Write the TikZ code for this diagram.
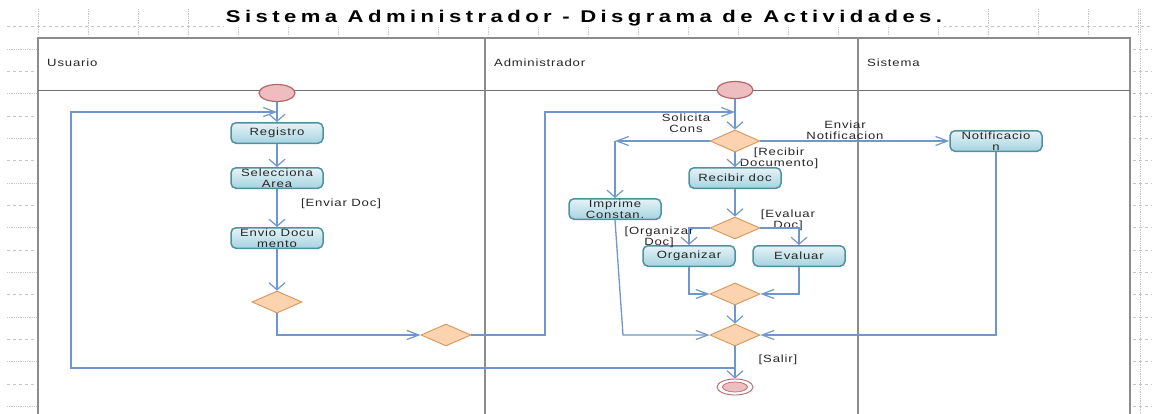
\documentclass[tikz,border=0pt]{standalone}
\usepackage{fontspec}
\setmainfont{Liberation Sans}
\newfontfamily\diafont[FakeStretch=1.25,LetterSpace=8]{Liberation Sans}
\newfontfamily\titlefont[FakeStretch=1.3,LetterSpace=26]{Liberation Sans}
\usetikzlibrary{shapes.geometric,arrows.meta}
\definecolor{flowc}{HTML}{6F97CC}
\definecolor{actt}{HTML}{E6F3F7}
\definecolor{actbot}{HTML}{A6D3E0}
\definecolor{actb}{HTML}{4F929F}
\definecolor{decf}{HTML}{FBD3AE}
\definecolor{decb}{HTML}{D9955A}
\definecolor{stf}{HTML}{EDBDC0}
\definecolor{stb}{HTML}{B5666B}
\definecolor{txt}{HTML}{262626}
\definecolor{framec}{HTML}{8C8C8C}
\definecolor{gridc}{HTML}{C4C4C4}
\begin{document}
\begin{tikzpicture}[x=1pt,y=-1pt,
  dfont/.style={font=\diafont\fontsize{10.5}{10.8}\selectfont, text=txt},
  act/.style={dfont, draw=actb, line width=1.5pt, rounded corners=5pt, top color=actt, bottom color=actbot, minimum width=92pt, minimum height=20.5pt, align=center, inner sep=0.5pt},
  dec/.style={diamond, draw=decb, line width=0.9pt, fill=decf, minimum width=50pt, minimum height=22pt, inner sep=0pt},
  startn/.style={ellipse, draw=stb, line width=1.2pt, fill=stf, minimum width=36pt, minimum height=17pt, inner sep=0pt},
  endn/.style={ellipse, draw=stb, line width=0.9pt, fill=white, minimum width=36pt, minimum height=16pt, inner sep=0pt,
    path picture={\fill[stf, draw=stb, line width=0.7pt] (path picture bounding box.center) ellipse (12.5pt and 5pt);}},
  guard/.style={dfont, align=center, inner sep=0pt},
  lane/.style={dfont, anchor=west, inner sep=0pt},
  flow/.style={draw=flowc, line width=1.3pt},
  varr/.style={-{Straight Barb[length=7pt,width=16pt,line width=1.2pt]}},
  harr/.style={-{Straight Barb[length=12pt,width=9pt,line width=1.2pt]}}
]
\useasboundingbox (0,0) rectangle (1152,413);
% rulers
\foreach \i in {0,...,22} \draw[gridc, densely dotted, line width=0.8pt] ({38+50*\i},9) -- ({38+50*\i},36);
\draw[gridc, dashed, line width=0.8pt] (7,26) -- (1152,26);
\foreach \k in {0,2,...,16} \draw[gridc, densely dotted, line width=0.8pt] (7,{49+22.33*\k}) -- (36,{49+22.33*\k});
\foreach \k in {1,3,...,15} \draw[gridc, dashed, line width=0.8pt] (7,{49+22.33*\k}) -- (36,{49+22.33*\k});
\draw[gridc, densely dotted, line width=0.8pt] (1140,9) -- (1140,413);
\foreach \k in {0,...,16} \draw[gridc, dashed, line width=0.8pt] (1133,{49+22.33*\k}) -- (1152,{49+22.33*\k});
% title
\node[font=\titlefont\bfseries\fontsize{17}{18}\selectfont, fill=white, inner sep=1.5pt] (title) at (584,18) {Sistema Administrador - Disgrama de Actividades.};
% pool and lanes
\draw[framec, line width=2.2pt] (38,420) -- (38,38) -- (1130,38) -- (1130,420);
\draw[framec!80!black, line width=0.9pt] (38,90) -- (1130,90);
\draw[framec, line width=2pt] (485,38) -- (485,420);
\draw[framec, line width=2pt] (858,38) -- (858,420);
\node[lane] (lu) at (47,63) {Usuario};
\node[lane] (la) at (494,63) {Administrador};
\node[lane] (ls) at (867,63) {Sistema};
% nodes
\node[startn] (s1) at (277,93) {};
\node[act] (reg) at (277,133) {Registro};
\node[act] (sel) at (277,178) {Selecciona\\Area};
\node[act] (env) at (277,238) {Envio Docu\\mento};
\node[dec] (d1) at (277,302) {};
\node[dec] (d2) at (446,335) {};
\node[startn] (s2) at (735,90) {};
\node[dec] (d3) at (735,141) {};
\node[act] (not) at (996,141) {Notificacio\\n};
\node[act] (rec) at (735,178) {Recibir doc};
\node[act] (imp) at (615,209) {Imprime\\Constan.};
\node[dec] (d4) at (735,228) {};
\node[act] (org) at (689,256) {Organizar};
\node[act] (eva) at (799,256) {Evaluar};
\node[dec] (d5) at (735,294) {};
\node[dec] (d6) at (735,335) {};
\node[endn] (fin) at (735,387) {};
\coordinate (m1) at (277,112);
\coordinate (m2) at (735,112);
\coordinate (bk) at (735,368);
\coordinate (ci) at (615,141);
% guards
\node[guard] (genv) at (341,204) {[Enviar Doc]};
\node[guard] (gsol) at (686,123) {Solicita\\Cons};
\node[guard] (gnot) at (845,130) {Enviar\\Notificacion};
\node[guard] (grec) at (779,158) {[Recibir\\Documento]};
\node[guard] (geva) at (788,220) {[Evaluar\\Doc]};
\node[guard] (gorg) at (659,237) {[Organizar\\Doc]};
\node[guard] (gsal) at (778,360) {[Salir]};
% connectors
\draw[flow, varr] (s1) -- (reg);
\draw[flow, varr] (reg) -- (sel);
\draw[flow, varr] (sel) -- (env);
\draw[flow, varr] (env) -- (d1);
\draw[flow, harr] (d1.south) |- (d2.west);
\draw[flow, harr] (d2.east) -- (545,335) -- (545,112) -- (m2);
\draw[flow, harr] (bk) -- (71,368) -- (71,112) -- (m1);
\draw[flow, varr] (s2) -- (d3);
\draw[flow, harr] (d3.west) -- (ci);
\draw[flow, varr] (ci) -- (imp);
\draw[flow, harr] (d3) -- (not);
\draw[flow, varr] (d3) -- (rec);
\draw[flow, varr] (rec) -- (d4);
\draw[flow, varr] (d4.west) -| (org);
\draw[flow, varr] (d4.east) -| (eva);
\draw[flow, harr] (org) |- (d5);
\draw[flow, harr] (eva) |- (d5);
\draw[flow, varr] (d5) -- (d6);
\draw[flow, harr] (imp.south) -- (623,335) -- (d6.west);
\draw[flow, harr] (not) |- (d6);
\draw[flow, varr] (d6) -- (fin);
\end{tikzpicture}
\end{document}
